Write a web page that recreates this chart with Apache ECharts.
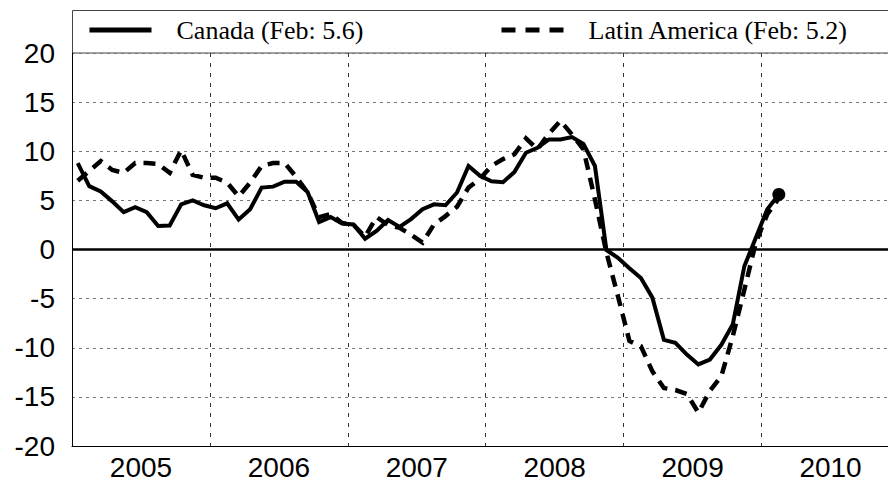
<!DOCTYPE html>
<html>
<head>
<meta charset="utf-8">
<script src="https://cdn.jsdelivr.net/npm/echarts@6/dist/echarts.min.js"></script>
<style>html,body{margin:0;padding:0;background:#fff}#c{width:888px;height:481px}</style>
</head>
<body>
<div id="c"></div>
<script>
// Monthly values, Jan 2005 .. Feb 2010
var startYear = 2005;
var yearLabels = ['2005', '2006', '2007', '2008', '2009', '2010'];
var yTicks = [-20, -15, -10, -5, 0, 5, 10, 15, 20];
var canadaName = 'Canada (Feb: 5.6)';
var latamName = 'Latin America (Feb: 5.2)';
var canada = [8.8, 6.45, 5.9, 4.9, 3.8, 4.3, 3.8, 2.4, 2.45, 4.6, 5.0, 4.5,
  4.2, 4.7, 3.05, 4.1, 6.3, 6.4, 6.9, 6.9, 5.85, 2.8, 3.3, 2.65,
  2.55, 1.1, 1.9, 3.0, 2.3, 3.1, 4.1, 4.6, 4.5, 5.8, 8.5, 7.5,
  6.95, 6.85, 7.9, 9.85, 10.35, 11.2, 11.2, 11.45, 10.75, 8.5, -0.05, -0.85,
  -1.9, -2.9, -4.9, -9.2, -9.5, -10.7, -11.7, -11.2, -9.7, -7.6, -1.7, 1.2,
  4.1, 5.6];
var latam = [7.0, 8.0, 9.0, 8.1, 7.8, 8.8, 8.8, 8.7, 7.8, 10.1, 7.6, 7.3,
  7.3, 6.8, 5.4, 6.8, 8.5, 8.8, 8.8, 7.4, 5.8, 3.3, 3.6, 2.7,
  2.5, 1.3, 3.3, 2.5, 2.2, 1.5, 0.7, 2.55, 3.4, 4.35, 6.3, 7.2,
  8.5, 9.2, 9.7, 11.3, 10.2, 11.8, 13.1, 11.7, 10.2, 5.1, -0.3, -4.75,
  -9.3, -9.85, -12.4, -14.1, -14.3, -14.7, -16.6, -14.4, -12.9, -8.8, -4.1, 0.7,
  3.6, 5.2];

// x = months since Jan 2005, points placed at mid-month
function toSeries(arr, markLast) {
  return arr.map(function (v, i) {
    var item = { value: [i + 0.5, v] };
    if (markLast && i === arr.length - 1) {
      item.symbol = 'circle';
      item.symbolSize = 13;
      item.itemStyle = { color: '#000' };
    }
    return item;
  });
}

var chart = echarts.init(document.getElementById('c'), null, { renderer: 'svg' });
var axisFont = { fontFamily: 'Liberation Sans, Arial, sans-serif', fontSize: 28, color: '#000' };
var legendFont = { fontFamily: 'Liberation Serif, Times New Roman, serif', fontSize: 26, color: '#000', padding: [0, 0, 0, 20] };

chart.setOption({
  animation: false,
  backgroundColor: '#fff',
  grid: { left: 72, right: 0, top: 53, bottom: 35, containLabel: false },
  graphic: [{
    type: 'rect', z: 0,
    shape: { x: 72.5, y: 10.5, width: 830, height: 42.5 },
    style: { fill: '#fff', stroke: '#444', lineWidth: 1 }
  }],
  legend: [{
    data: [canadaName], left: 82, top: 12, itemWidth: 62, itemHeight: 20,
    textStyle: legendFont, selectedMode: false,
    itemStyle: { opacity: 0 },
    lineStyle: { width: 5 }
  }, {
    data: [latamName], left: 494, top: 12, itemWidth: 62, itemHeight: 20,
    textStyle: legendFont, selectedMode: false,
    itemStyle: { opacity: 0 },
    lineStyle: { width: 5, type: [14, 10] }
  }],
  xAxis: {
    type: 'value', min: 0, max: 71, interval: 12,
    axisLine: { show: true, onZero: false, lineStyle: { color: '#000', width: 1 } },
    axisTick: { show: false },
    axisLabel: Object.assign({
      customValues: yearLabels.map(function (y, k) { return k * 12 + 6; }),
      formatter: function (v) { return String(startYear + Math.floor(v / 12)); },
      margin: 7
    }, axisFont),
    splitLine: { show: true, lineStyle: { color: '#333', type: [4, 6], width: 1 } }
  },
  yAxis: {
    type: 'value', min: -20, max: 20, interval: 5,
    axisLine: { show: true, lineStyle: { color: '#000', width: 1 } },
    axisTick: { show: false },
    axisLabel: Object.assign({ margin: 17 }, axisFont),
    splitLine: { show: true, lineStyle: { color: '#777', type: [3, 4], width: 1 } }
  },
  series: [{
    name: latamName, type: 'line', z: 2,
    symbol: 'none',
    data: toSeries(latam, false),
    lineStyle: { color: '#000', width: 4.5, type: [12, 8], join: 'miter' },
    itemStyle: { color: '#000' }
  }, {
    name: canadaName, type: 'line', z: 3,
    symbol: 'none',
    data: toSeries(canada, true),
    lineStyle: { color: '#000', width: 4, join: 'miter' },
    itemStyle: { color: '#000' },
    markLine: {
      silent: true, symbol: 'none', label: { show: false },
      lineStyle: { color: '#000', type: 'solid', width: 2.5 },
      data: [{ yAxis: 0 }]
    }
  }]
});
</script>
</body>
</html>
